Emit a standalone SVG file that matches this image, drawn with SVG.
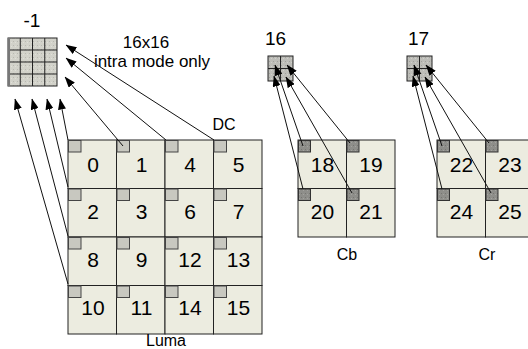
<svg xmlns="http://www.w3.org/2000/svg" width="528" height="349" viewBox="0 0 528 349">
<style>
text{font-family:"Liberation Sans",Arial,sans-serif;fill:#000}
.num{font-size:21px;text-anchor:middle}
.lbl{font-size:16px;text-anchor:middle}
.big{font-size:19px}
.cell{fill:#ECECE0;stroke:#222;stroke-width:1}
.lg{fill:#C8C8C0;stroke:#444;stroke-width:1}
.cg{fill:url(#speckD);stroke:#333;stroke-width:1}
.blk{fill:url(#speckL);stroke:#222;stroke-width:1}
.conn line{stroke:#111;stroke-width:1;marker-end:url(#ah)}
</style>
<defs>
<marker id="ah" markerUnits="userSpaceOnUse" markerWidth="11" markerHeight="8" refX="10.5" refY="4" orient="auto">
<path d="M0,0 L11,4 L0,8 z" fill="#000"/>
</marker>
<pattern id="speckL" width="4" height="4" patternUnits="userSpaceOnUse">
<rect width="4" height="4" fill="#D2D2CA"/>
<rect x="1" y="1" width="1" height="1" fill="#B8B8B0"/>
<rect x="3" y="2" width="1" height="1" fill="#E0E0D8"/>
</pattern>
<pattern id="speckM" width="4" height="4" patternUnits="userSpaceOnUse">
<rect width="4" height="4" fill="#BDBDB8"/>
<rect x="1" y="1" width="1" height="1" fill="#A0A09C"/>
<rect x="3" y="2" width="1" height="1" fill="#D0D0CC"/>
</pattern>
<pattern id="speckD" width="4" height="4" patternUnits="userSpaceOnUse">
<rect width="4" height="4" fill="#8E8E8A"/>
<rect x="1" y="1" width="1" height="1" fill="#767672"/>
<rect x="3" y="2" width="1" height="1" fill="#A4A4A0"/>
</pattern>
</defs>

<g id="block-minus1">
<rect x="8" y="38" width="49" height="48" class="blk"/>
<path d="M20.25,38V86M32.5,38V86M44.75,38V86M8,50H57M8,62H57M8,74H57" stroke="#222" stroke-width="1" fill="none"/>
<line x1="9" y1="38" x2="9" y2="86" stroke="#777" stroke-width="2"/>
<text x="32" y="27" class="lbl big">-1</text>
</g>

<g id="label-16x16">
<text x="146" y="48" font-size="17" text-anchor="middle">16x16</text>
<text x="152" y="67" font-size="17" text-anchor="middle">intra mode only</text>
</g>
<g id="label-dc"><text x="224" y="130" class="lbl">DC</text></g>

<g id="block-16">
<rect x="268" y="56" width="25" height="25" fill="url(#speckM)" stroke="#222"/>
<path d="M280.5,56V81M268,68.5H293" stroke="#222" fill="none"/>
<text x="265" y="45" class="big">16</text>
</g>
<g id="block-17">
<rect x="407" y="56" width="25" height="25" fill="url(#speckM)" stroke="#222"/>
<path d="M419.5,56V81M407,68.5H432" stroke="#222" fill="none"/>
<text x="408" y="45" class="big">17</text>
</g>

<g id="luma">
<g id="cell-0"><rect x="68" y="140" width="48.5" height="48.5" class="cell"/><rect x="68.5" y="140.5" width="12.5" height="11.5" class="lg"/><text x="93" y="172" class="num">0</text></g>
<g id="cell-1"><rect x="116.5" y="140" width="48.5" height="48.5" class="cell"/><rect x="117" y="140.5" width="12.5" height="11.5" class="lg"/><text x="141.5" y="172" class="num">1</text></g>
<g id="cell-4"><rect x="165" y="140" width="48.5" height="48.5" class="cell"/><rect x="165.5" y="140.5" width="12.5" height="11.5" class="lg"/><text x="190" y="172" class="num">4</text></g>
<g id="cell-5"><rect x="213.5" y="140" width="48.5" height="48.5" class="cell"/><rect x="214" y="140.5" width="12.5" height="11.5" class="lg"/><text x="238.5" y="172" class="num">5</text></g>

<g id="cell-2"><rect x="68" y="188.5" width="48.5" height="48.5" class="cell"/><rect x="68.5" y="189" width="12.5" height="11.5" class="lg"/><text x="93" y="219" class="num">2</text></g>
<g id="cell-3"><rect x="116.5" y="188.5" width="48.5" height="48.5" class="cell"/><rect x="117" y="189" width="12.5" height="11.5" class="lg"/><text x="141.5" y="219" class="num">3</text></g>
<g id="cell-6"><rect x="165" y="188.5" width="48.5" height="48.5" class="cell"/><rect x="165.5" y="189" width="12.5" height="11.5" class="lg"/><text x="190" y="219" class="num">6</text></g>
<g id="cell-7"><rect x="213.5" y="188.5" width="48.5" height="48.5" class="cell"/><rect x="214" y="189" width="12.5" height="11.5" class="lg"/><text x="238.5" y="219" class="num">7</text></g>

<g id="cell-8"><rect x="68" y="237" width="48.5" height="48.5" class="cell"/><rect x="68.5" y="237.5" width="12.5" height="11.5" class="lg"/><text x="93" y="267" class="num">8</text></g>
<g id="cell-9"><rect x="116.5" y="237" width="48.5" height="48.5" class="cell"/><rect x="117" y="237.5" width="12.5" height="11.5" class="lg"/><text x="141.5" y="267" class="num">9</text></g>
<g id="cell-12"><rect x="165" y="237" width="48.5" height="48.5" class="cell"/><rect x="165.5" y="237.5" width="12.5" height="11.5" class="lg"/><text x="190" y="267" class="num">12</text></g>
<g id="cell-13"><rect x="213.5" y="237" width="48.5" height="48.5" class="cell"/><rect x="214" y="237.5" width="12.5" height="11.5" class="lg"/><text x="238.5" y="267" class="num">13</text></g>

<g id="cell-10"><rect x="68" y="285.5" width="48.5" height="48.5" class="cell"/><rect x="68.5" y="286" width="12.5" height="11.5" class="lg"/><text x="93" y="315" class="num">10</text></g>
<g id="cell-11"><rect x="116.5" y="285.5" width="48.5" height="48.5" class="cell"/><rect x="117" y="286" width="12.5" height="11.5" class="lg"/><text x="141.5" y="315" class="num">11</text></g>
<g id="cell-14"><rect x="165" y="285.5" width="48.5" height="48.5" class="cell"/><rect x="165.5" y="286" width="12.5" height="11.5" class="lg"/><text x="190" y="315" class="num">14</text></g>
<g id="cell-15"><rect x="213.5" y="285.5" width="48.5" height="48.5" class="cell"/><rect x="214" y="286" width="12.5" height="11.5" class="lg"/><text x="238.5" y="315" class="num">15</text></g>
<text x="166" y="346" class="lbl">Luma</text>
</g>

<g id="cb">
<g id="cell-18"><rect x="298" y="140" width="48.5" height="48.5" class="cell"/><rect x="298.5" y="140.5" width="12" height="11.5" class="cg"/><text x="322.5" y="172" class="num">18</text></g>
<g id="cell-19"><rect x="346.5" y="140" width="48.5" height="48.5" class="cell"/><rect x="347" y="140.5" width="12" height="11.5" class="cg"/><text x="371" y="172" class="num">19</text></g>
<g id="cell-20"><rect x="298" y="188.5" width="48.5" height="48.5" class="cell"/><rect x="298.5" y="189" width="12" height="11.5" class="cg"/><text x="322.5" y="219" class="num">20</text></g>
<g id="cell-21"><rect x="346.5" y="188.5" width="48.5" height="48.5" class="cell"/><rect x="347" y="189" width="12" height="11.5" class="cg"/><text x="371" y="219" class="num">21</text></g>
<text x="347" y="260" class="lbl">Cb</text>
</g>

<g id="cr">
<g id="cell-22"><rect x="437" y="140" width="48.5" height="48.5" class="cell"/><rect x="437.5" y="140.5" width="12" height="11.5" class="cg"/><text x="461.5" y="172" class="num">22</text></g>
<g id="cell-23"><rect x="485.5" y="140" width="48.5" height="48.5" class="cell"/><rect x="486" y="140.5" width="12" height="11.5" class="cg"/><text x="510" y="172" class="num">23</text></g>
<g id="cell-24"><rect x="437" y="188.5" width="48.5" height="48.5" class="cell"/><rect x="437.5" y="189" width="12" height="11.5" class="cg"/><text x="461.5" y="219" class="num">24</text></g>
<g id="cell-25"><rect x="485.5" y="188.5" width="48.5" height="48.5" class="cell"/><rect x="486" y="189" width="12" height="11.5" class="cg"/><text x="510" y="219" class="num">25</text></g>
<text x="487" y="260" class="lbl">Cr</text>
</g>

<g id="connectors" class="conn">
<line x1="68" y1="140" x2="60" y2="99"/>
<line x1="68" y1="187" x2="47" y2="99"/>
<line x1="68" y1="236" x2="32" y2="99"/>
<line x1="68" y1="284" x2="15" y2="99"/>
<line x1="123" y1="146" x2="65" y2="77"/>
<line x1="166" y1="140" x2="66" y2="58"/>
<line x1="214" y1="140" x2="66" y2="45"/>
<line x1="303" y1="146" x2="275" y2="65"/>
<line x1="350" y1="143" x2="287" y2="65"/>
<line x1="303" y1="189" x2="274" y2="76"/>
<line x1="352" y1="193" x2="286" y2="77"/>
<line x1="442" y1="146" x2="414" y2="65"/>
<line x1="489" y1="143" x2="426" y2="65"/>
<line x1="442" y1="189" x2="413" y2="76"/>
<line x1="491" y1="193" x2="425" y2="77"/>
</g>
</svg>
